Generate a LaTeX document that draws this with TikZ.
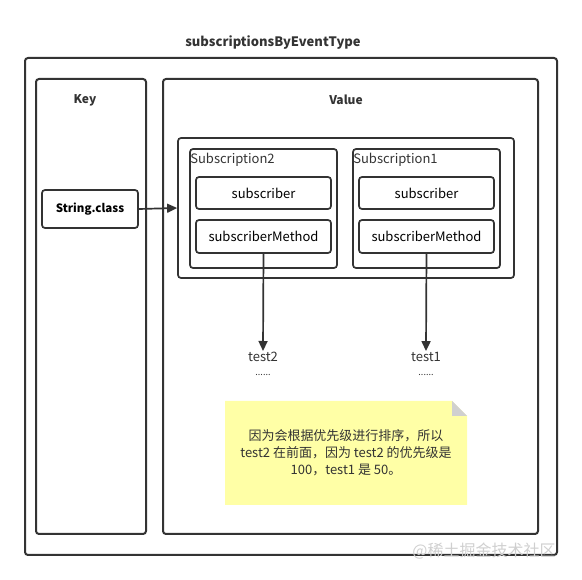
\documentclass[tikz,border=0pt]{standalone}
\usepackage{fontspec}
\setmainfont{Noto Sans CJK SC}
\usetikzlibrary{arrows.meta,positioning}

\definecolor{linegray}{HTML}{333333}
\definecolor{noteyellow}{HTML}{FFFFA6}
\definecolor{foldgray}{HTML}{D0D0D0}
\definecolor{markgray}{HTML}{CFCFCF}

\tikzset{
  frame/.style={draw=linegray, line width=2pt, rounded corners=3pt, inner sep=0pt},
  field/.style={frame, line width=1.7pt, font=\fontsize{13}{15}\selectfont},
  conn/.style={draw=linegray, line width=1.7pt, -{Triangle[length=10pt,width=9pt]}},
  lbl/.style={inner sep=1pt, text=linegray, font=\fontsize{13}{15}\selectfont},
  head/.style={lbl, font=\fontsize{13}{15}\selectfont\bfseries}
}

\begin{document}
\begin{tikzpicture}[x=1pt,y=-1pt]
\useasboundingbox (0,0) rectangle (582,580);

% Map container
\node[head] (title) at (273,43) {subscriptionsByEventType};
\node[frame, minimum width=532pt, minimum height=497pt] (map) at (291,306.5) {};

% Key column
\node[frame, minimum width=110pt, minimum height=455pt] (keycol) at (91,306.5) {};
\node[head, font=\fontsize{12}{14}\selectfont\bfseries] (keylbl) at (85,100) {Key};
\node[field, font=\fontsize{11.5}{13}\selectfont\bfseries, minimum width=96pt, minimum height=38pt] (strcls) at (90,209) {String.class};

% Value column
\node[frame, minimum width=375pt, minimum height=455pt] (valcol) at (350.5,306.5) {};
\node[head, font=\fontsize{12}{14}\selectfont\bfseries] (vallbl) at (346,100) {Value};
\node[frame, line width=1.7pt, minimum width=336pt, minimum height=140pt] (list) at (346,208) {};

% Subscription2
\node[frame, line width=1.7pt, minimum width=147pt, minimum height=119pt] (subtwo) at (263.5,208.5) {};
\node[lbl, anchor=north west] at ([yshift=-4pt]subtwo.north west) {Subscription2};
\node[field, minimum width=135pt, minimum height=32pt] (subtwoa) at (263.5,193) {subscriber};
\node[field, minimum width=135pt, minimum height=33pt] (subtwob) at (263.5,236.5) {subscriberMethod};

% Subscription1
\node[frame, line width=1.7pt, minimum width=147pt, minimum height=119pt] (subone) at (426.5,208.5) {};
\node[lbl, anchor=north west] at ([yshift=-4pt]subone.north west) {Subscription1};
\node[field, minimum width=135pt, minimum height=32pt] (subonea) at (426.5,193) {subscriber};
\node[field, minimum width=135pt, minimum height=33pt] (suboneb) at (426.5,236.5) {subscriberMethod};

% Methods
\node[lbl] (testtwo) at (263,357) {test2};
\node[lbl, font=\fontsize{9}{10}\selectfont] (dotstwo) at (263,375) {......};
\node[lbl] (testone) at (426,357) {test1};
\node[lbl, font=\fontsize{9}{10}\selectfont] (dotsone) at (426,375) {......};

\draw[conn] (strcls.east) -- (list.west);
\draw[conn] (subtwob.south) -- (testtwo.north);
\draw[conn] (suboneb.south) -- (testone.north);

% Note
\fill[noteyellow] (225,401) -- (452,401) -- (467,416) -- (467,505) -- (225,505) -- cycle;
\fill[foldgray] (452,401) -- (467,416) -- (452,416) -- cycle;
\node[lbl, align=center, font=\fontsize{13}{17}\selectfont] (note) at (346,453)
  {因为会根据优先级进行排序，所以\\test2 在前面，因为 test2 的优先级是\\100，test1 是 50。};

% Watermark
\node[text=markgray, font=\fontsize{16}{18}\selectfont] (mark) at (484,551) {@稀土掘金技术社区};
\end{tikzpicture}
\end{document}
